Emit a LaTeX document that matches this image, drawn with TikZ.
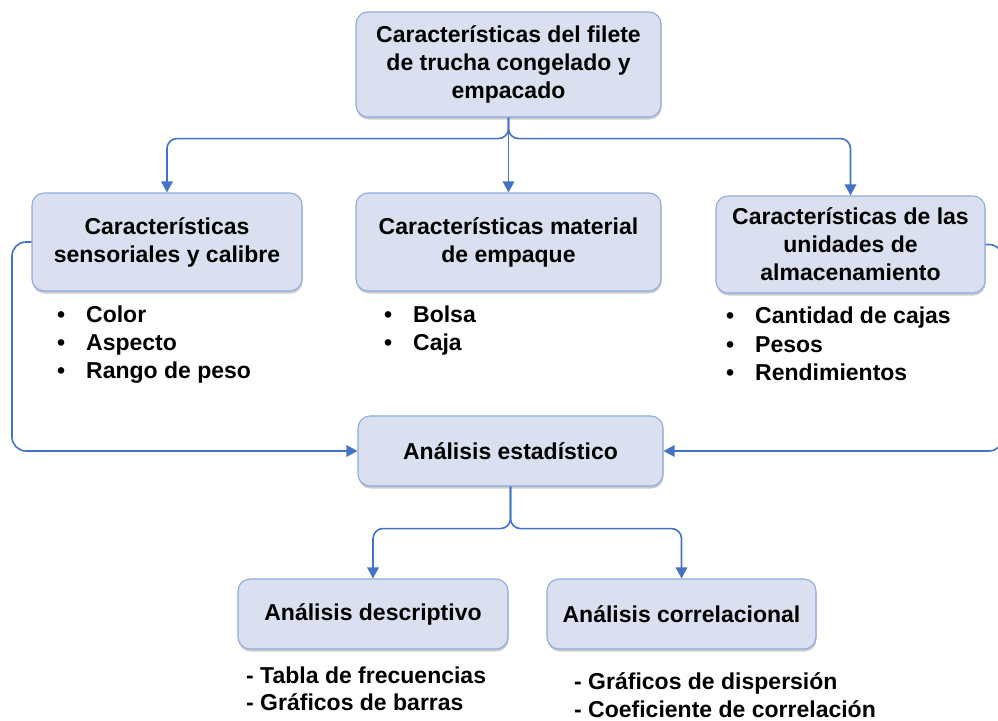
\documentclass[tikz,border=0pt]{standalone}
\usepackage{fontspec}
\setmainfont{Liberation Sans}
\usetikzlibrary{arrows.meta,shadows}
\definecolor{boxfill}{HTML}{DAE0EF}
\definecolor{boxline}{HTML}{8FAADC}
\definecolor{connc}{HTML}{4472C4}
\tikzset{
  box/.style={draw=boxline, fill=boxfill, line width=1.1pt, rounded corners=12pt,
    align=center, inner sep=2pt, font=\fontsize{23}{28}\selectfont\bfseries,
    drop shadow={shadow xshift=0.5pt, shadow yshift=-2.5pt, opacity=0.2, fill=black}},
  conn/.style={draw=connc, line width=1.6pt, rounded corners=10pt,
    -{Triangle[length=11pt,width=11.5pt]}},
  loopc/.style={draw=connc, line width=1.6pt, rounded corners=14pt,
    -{Triangle[length=11pt,width=11.5pt]}},
  item/.style={anchor=base west, inner sep=0pt, font=\fontsize{23}{28}\selectfont\bfseries},
}
\newcommand{\bul}{\makebox[29pt][l]{•}}
\begin{document}
\begin{tikzpicture}[x=1pt,y=-1pt]
\useasboundingbox (0,0) rectangle (998,720);
% boxes
\node[box, minimum width=305pt, minimum height=105pt] (top) at (508.5,64.5)
  {Características del filete\\de trucha congelado y\\empacado};
\node[box, minimum width=270pt, minimum height=98pt] (left) at (167,242)
  {Características\\sensoriales y calibre};
\node[box, minimum width=305pt, minimum height=98pt] (mid) at (508.5,242)
  {Características material\\de empaque};
\node[box, minimum width=269pt, minimum height=97pt] (right) at (850.5,244.5)
  {Características de las\\unidades de\\almacenamiento};
\node[box, minimum width=305pt, minimum height=70pt] (ana) at (510.5,451)
  {Análisis estadístico};
\node[box, minimum width=270pt, minimum height=70pt] (desc) at (373,614)
  {Análisis descriptivo};
\node[box, minimum width=269pt, minimum height=70pt] (corr) at (681.5,614)
  {Análisis correlacional};
% lists
\node[item] (la) at (57,322) {\bul Color};
\node[item] (lb) at (57,350) {\bul Aspecto};
\node[item] (lc) at (57,378) {\bul Rango de peso};
\node[item] (ma) at (384,322) {\bul Bolsa};
\node[item] (mb) at (384,350) {\bul Caja};
\node[item] (ra) at (726,323) {\bul Cantidad de cajas};
\node[item] (rb) at (726,352) {\bul Pesos};
\node[item] (rc) at (726,380) {\bul Rendimientos};
\node[item] (da) at (246,683) {- Tabla de frecuencias};
\node[item] (db) at (246,710) {- Gráficos de barras};
\node[item] (ca) at (574,689) {- Gráficos de dispersión};
\node[item] (cb) at (574,717) {- Coeficiente de correlación};
% connectors
\draw[conn] (top.south) -- ++(0,21) -| (left.north);
\draw[conn] (top.south) -- ++(0,21) -| (right.north);
\draw[conn] (top.south) -- (mid.north);
\coordinate (lx) at (12,451);
\coordinate (rx) at (1003,451);
\draw[loopc] (left.west) -| (lx) -- (ana.west);
\draw[loopc] (right.east) -| (rx) -- (ana.east);
\draw[conn] (ana.south) -- ++(0,42) -| (desc.north);
\draw[conn] (ana.south) -- ++(0,42) -| (corr.north);
\end{tikzpicture}
\end{document}
